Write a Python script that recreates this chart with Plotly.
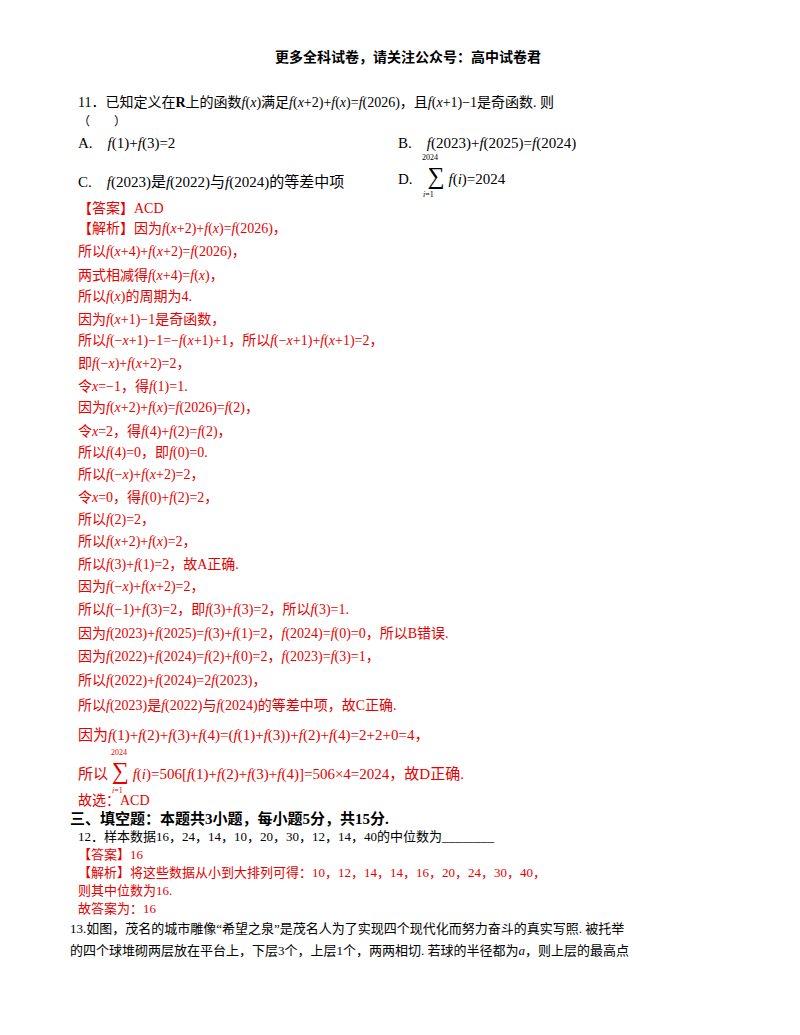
import plotly.graph_objects as go

W, H = 800, 1035
RED = "#e60000"
BLACK = "#000000"
FONT = "Liberation Serif, Noto Sans CJK SC"
DY = -8

header = "更多全科试卷，请关注公众号：高中试卷君"

f = "<i>f</i>"
x = "<i>x</i>"
S = "<span style='font-size:24px'>∑</span>"
q11 = [
    f"11．已知定义在<b>R</b>上的函数{f}({x})满足{f}({x}+2)+{f}({x})={f}(2026)，且{f}({x}+1)−1是奇函数. 则",
    "（　　）",
]
optA = f"A.　{f}(1)+{f}(3)=2"
optB = f"B.　{f}(2023)+{f}(2025)={f}(2024)"
optC = f"C.　{f}(2023)是{f}(2022)与{f}(2024)的等差中项"
optD = f"D.　{S} {f}(<i>i</i>)=2024"

solution = [
    "【答案】ACD",
    f"【解析】因为{f}({x}+2)+{f}({x})={f}(2026)，",
    f"所以{f}({x}+4)+{f}({x}+2)={f}(2026)，",
    f"两式相减得{f}({x}+4)={f}({x})，",
    f"所以{f}({x})的周期为4.",
    f"因为{f}({x}+1)−1是奇函数，",
    f"所以{f}(−{x}+1)−1=−{f}({x}+1)+1，所以{f}(−{x}+1)+{f}({x}+1)=2，",
    f"即{f}(−{x})+{f}({x}+2)=2，",
    f"令{x}=−1，得{f}(1)=1.",
    f"因为{f}({x}+2)+{f}({x})={f}(2026)={f}(2)，",
    f"令{x}=2，得{f}(4)+{f}(2)={f}(2)，",
    f"所以{f}(4)=0，即{f}(0)=0.",
    f"所以{f}(−{x})+{f}({x}+2)=2，",
    f"令{x}=0，得{f}(0)+{f}(2)=2，",
    f"所以{f}(2)=2，",
    f"所以{f}({x}+2)+{f}({x})=2，",
    f"所以{f}(3)+{f}(1)=2，故A正确.",
    f"因为{f}(−{x})+{f}({x}+2)=2，",
    f"所以{f}(−1)+{f}(3)=2，即{f}(3)+{f}(3)=2，所以{f}(3)=1.",
    f"因为{f}(2023)+{f}(2025)={f}(3)+{f}(1)=2，{f}(2024)={f}(0)=0，所以B错误.",
    f"因为{f}(2022)+{f}(2024)={f}(2)+{f}(0)=2，{f}(2023)={f}(3)=1，",
    f"所以{f}(2022)+{f}(2024)=2{f}(2023)，",
    f"所以{f}(2023)是{f}(2022)与{f}(2024)的等差中项，故C正确.",
    f"因为{f}(1)+{f}(2)+{f}(3)+{f}(4)=({f}(1)+{f}(3))+{f}(2)+{f}(4)=2+2+0=4，",
    f"所以 {S} {f}(<i>i</i>)=506[{f}(1)+{f}(2)+{f}(3)+{f}(4)]=506×4=2024，故D正确.",
    "故选：ACD",
]
solution_y = [208, 229, 252, 275, 297, 319, 341, 364, 386, 408, 431, 453, 475, 497,
              520, 542, 565, 587, 610, 634, 657, 681, 705, 735, 771, 800]

section3 = "三、填空题：本题共3小题，每小题5分，共15分."
q12 = "12．样本数据16，24，14，10，20，30，12，14，40的中位数为________"
ans12 = ["【答案】16",
         "【解析】将这些数据从小到大排列可得：10，12，14，14，16，20，24，30，40，",
         "则其中位数为16.",
         "故答案为：16"]
q13 = ["13.如图，茂名的城市雕像“希望之泉”是茂名人为了实现四个现代化而努力奋斗的真实写照. 被托举",
       "的四个球堆砌两层放在平台上，下层3个，上层1个，两两相切. 若球的半径都为<i>a</i>，则上层的最高点"]

fig = go.Figure()
ann = []

def add(text, px, py, size=14, color=BLACK, xanchor="left"):
    ann.append(dict(text=text, x=px / W, y=1 - (py + DY) / H, xref="paper", yref="paper",
                    xanchor=xanchor, yanchor="middle", showarrow=False,
                    font=dict(family=FONT, size=size, color=color)))

add(f"<b>{header}</b>", 400, 57, 14, BLACK, "center")
add(q11[0], 68, 103, 14)
add(q11[1], 68, 122, 12)
add(optA, 68, 143, 15)
add(optB, 388, 143, 15)
add(optC, 68, 182, 15)
add(optD, 388, 176, 15)
add("2024", 412, 158, 8)
add("<i>i</i>=1", 413, 195, 8)

for t, py in zip(solution, solution_y):
    add(t, 68, py, 15 if py in (735, 771) else 14, RED)
add("2024", 101, 752, 8, RED)
add("<i>i</i>=1", 102, 790, 8, RED)

add(f"<b>{section3}</b>", 60, 818, 15)
add(q12, 68, 836, 13)
for t, py in zip(ans12, [854, 872, 890, 908]):
    add(t, 68, py, 13, RED)
add(q13[0], 60, 928, 13)
add(q13[1], 60, 950, 13)

fig.update_layout(width=W, height=H, margin=dict(l=0, r=0, t=0, b=0),
                  plot_bgcolor="white", paper_bgcolor="white", annotations=ann,
                  xaxis=dict(visible=False), yaxis=dict(visible=False))
fig.write_html("out.html")
